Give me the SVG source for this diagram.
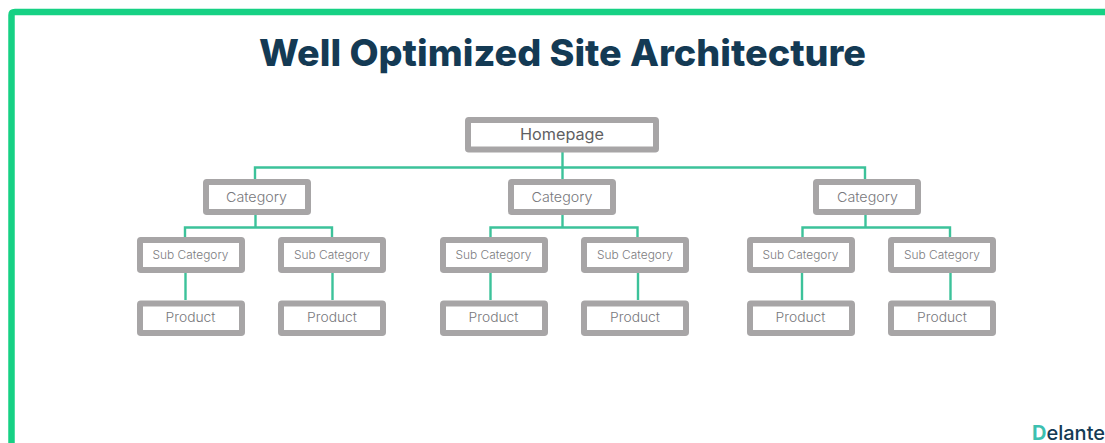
<svg xmlns="http://www.w3.org/2000/svg" width="1105" height="443" viewBox="0 0 1105 443">
<style>
.box{fill:#fff;stroke:#a7a5a6;stroke-width:6}
.ln{fill:none;stroke:#3cc29a;stroke-width:2.4}
text{font-family:"Inter","Liberation Sans",sans-serif;text-anchor:middle;font-weight:300}
.h{font-size:15.5px;fill:#5f5f63;font-weight:400}
.c{font-size:13.5px;fill:#78787c}
.s{font-size:11px;fill:#7c7c80}
.p{font-size:13px;fill:#78787c}
</style>
<rect width="1105" height="443" fill="#fff"/>
<path id="frame" d="M11.500 443V15Q11.500 12 15 12H1105" fill="none" stroke="#16d184" stroke-width="6.500"/>
<text id="title" x="562.500" y="66" style="font-size:37px;font-weight:800;fill:#143a54" textLength="607" lengthAdjust="spacingAndGlyphs">Well Optimized Site Architecture</text>
<g id="connectors" class="ln">
<path d="M562.500 152V179M255 179V167.500H865V179"/>
<path d="M255.500 215V227.500M185 237V227.500H332V237"/>
<path d="M562.500 215V227.500M490.500 237V227.500H637.500V237"/>
<path d="M865.500 215V227.500M802.500 237V227.500H950V237"/>
<path d="M185.500 273V300M332.500 273V300M490.500 273V300M638 273V300M802 273V300M950.500 273V300"/>
</g>
<g id="homepage"><rect class="box" x="468" y="120" width="188" height="29.500" rx="0.800"/><text class="h" x="562" y="139.500" textLength="84" lengthAdjust="spacingAndGlyphs">Homepage</text></g>
<g id="cat1"><rect class="box" x="206" y="182" width="102" height="30" rx="0.800"/><text class="c" x="256.500" y="202" textLength="61" lengthAdjust="spacingAndGlyphs">Category</text></g>
<g id="cat2"><rect class="box" x="511" y="182" width="102" height="30" rx="0.800"/><text class="c" x="562" y="202" textLength="61" lengthAdjust="spacingAndGlyphs">Category</text></g>
<g id="cat3"><rect class="box" x="816" y="182" width="102" height="30" rx="0.800"/><text class="c" x="867.500" y="202" textLength="61" lengthAdjust="spacingAndGlyphs">Category</text></g>
<g id="sub1"><rect class="box" x="140" y="240" width="102" height="30" rx="0.800"/><text class="s" x="190.500" y="259" textLength="76" lengthAdjust="spacingAndGlyphs">Sub Category</text></g>
<g id="sub2"><rect class="box" x="281" y="240" width="102" height="30" rx="0.800"/><text class="s" x="332" y="259" textLength="76" lengthAdjust="spacingAndGlyphs">Sub Category</text></g>
<g id="sub3"><rect class="box" x="443" y="240" width="102" height="30" rx="0.800"/><text class="s" x="493.500" y="259" textLength="76" lengthAdjust="spacingAndGlyphs">Sub Category</text></g>
<g id="sub4"><rect class="box" x="584" y="240" width="102" height="30" rx="0.800"/><text class="s" x="635" y="259" textLength="76" lengthAdjust="spacingAndGlyphs">Sub Category</text></g>
<g id="sub5"><rect class="box" x="750" y="240" width="102" height="30" rx="0.800"/><text class="s" x="800.500" y="259" textLength="76" lengthAdjust="spacingAndGlyphs">Sub Category</text></g>
<g id="sub6"><rect class="box" x="891" y="240" width="102" height="30" rx="0.800"/><text class="s" x="942" y="259" textLength="76" lengthAdjust="spacingAndGlyphs">Sub Category</text></g>
<g id="prod1"><rect class="box" x="140" y="303.500" width="102" height="29.500" rx="0.800"/><text class="p" x="190.500" y="322" textLength="50" lengthAdjust="spacingAndGlyphs">Product</text></g>
<g id="prod2"><rect class="box" x="281" y="303.500" width="102" height="29.500" rx="0.800"/><text class="p" x="332" y="322" textLength="50" lengthAdjust="spacingAndGlyphs">Product</text></g>
<g id="prod3"><rect class="box" x="443" y="303.500" width="102" height="29.500" rx="0.800"/><text class="p" x="493.500" y="322" textLength="50" lengthAdjust="spacingAndGlyphs">Product</text></g>
<g id="prod4"><rect class="box" x="584" y="303.500" width="102" height="29.500" rx="0.800"/><text class="p" x="635" y="322" textLength="50" lengthAdjust="spacingAndGlyphs">Product</text></g>
<g id="prod5"><rect class="box" x="750" y="303.500" width="102" height="29.500" rx="0.800"/><text class="p" x="800.500" y="322" textLength="50" lengthAdjust="spacingAndGlyphs">Product</text></g>
<g id="prod6"><rect class="box" x="891" y="303.500" width="102" height="29.500" rx="0.800"/><text class="p" x="942" y="322" textLength="50" lengthAdjust="spacingAndGlyphs">Product</text></g>
<text id="logo" x="1032" y="440" style="font-size:20px;font-weight:500;fill:#143a54;text-anchor:start"><tspan fill="#3cc0b0" font-weight="700">D</tspan>elante</text>
</svg>
